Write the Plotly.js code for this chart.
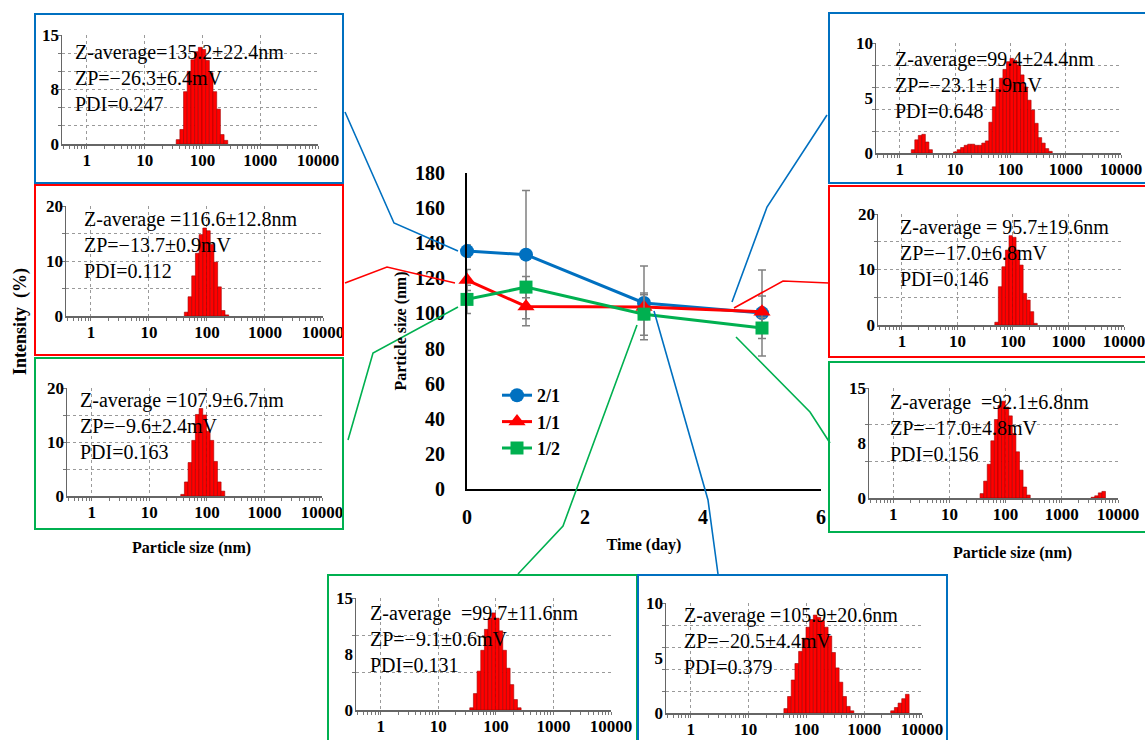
<!DOCTYPE html>
<html><head><meta charset="utf-8">
<script src="https://cdn.plot.ly/plotly-3.0.1.min.js"></script>
<style>html,body{margin:0;padding:0;background:#fff}#chart{width:1145px;height:740px}</style>
</head><body><div id="chart"></div>
<script>
// ---------- main chart data ----------
const days = [0, 1, 3, 5];
const seriesNames = ['2/1', '1/1', '1/2'];
const size21 = [135.5, 133.5, 106.0, 100.2];
const err21  = [3.5, 36.5, 21.0, 24.5];
const size11 = [119.0, 104.0, 103.6, 101.0];
const err11  = [6.0, 11.0, 7.0, 9.0];
const size12 = [108.0, 115.0, 99.6, 91.7];
const err12  = [8.0, 6.0, 12.0, 6.0];
const mainXTicks = [0, 2, 4, 6];
const mainYTicks = [0, 20, 40, 60, 80, 100, 120, 140, 160, 180];

// ---------- DLS intensity distributions (size nm, intensity %) ----------
const d21_0_size = [37.84,43.82,50.75,58.77,68.06,78.82,91.28,105.7,122.4,141.8,164.2,190.1,220.2,255.0];
const d21_0_int  = [0.6,2.0,7.2,10.0,11.6,12.7,13.3,13.0,11.5,9.8,7.2,4.8,1.3,0.5];
const d11_0_size = [43.82,50.75,58.77,68.06,78.82,91.28,105.7,122.4,141.8,164.2,190.1,220.2];
const d11_0_int  = [0.7,3.5,7.3,11.4,14.8,16.0,15.5,13.0,9.8,5.3,1.0,0.2];
const d12_0_size = [37.84,43.82,50.75,58.77,68.06,78.82,91.28,105.7,122.4,141.8,164.2,190.1];
const d12_0_int  = [0.3,2.6,6.2,10.3,15.1,16.2,15.0,12.0,10.3,6.4,2.6,0.9];
const d21_5_size = [1.736,2.010,2.328,2.696,3.122,3.615,
  10.10,11.70,13.54,15.69,18.17,21.04,24.36,28.21,32.67,37.84,43.82,50.75,58.77,68.06,78.82,91.28,105.7,122.4,141.8,164.2,190.1,220.2,255.0,295.3,342.0,396.1,458.7,531.2];
const d21_5_int  = [0.3,1.2,1.6,1.7,1.0,0.3,
  0.1,0.3,0.5,0.7,0.8,0.8,0.7,0.7,0.9,1.1,2.8,4.2,5.8,6.8,7.6,8.3,8.6,8.4,8.0,7.1,6.0,4.8,3.9,2.7,1.4,0.9,0.4,0.15];
const d11_5_size = [50.75,58.77,68.06,78.82,91.28,105.7,122.4,141.8,164.2,190.1,220.2,255.0];
const d11_5_int  = [0.5,6.9,10.5,13.5,16.1,15.8,13.5,10.8,5.7,4.5,2.4,0.3];
const d12_5_size = [37.84,43.82,50.75,58.77,68.06,78.82,91.28,105.7,122.4,141.8,164.2,190.1,220.2,255.0,3580,4145,4801,5560];
const d12_5_int  = [0.6,2.3,4.6,7.8,10.7,12.6,13.2,12.4,11.2,8.8,6.3,3.8,1.5,0.4,0.1,0.3,0.7,0.9];
const d12_3_size = [37.84,43.82,50.75,58.77,68.06,78.82,91.28,105.7,122.4,141.8,164.2,190.1,220.2,255.0];
const d12_3_int  = [0.3,2.2,5.2,8.0,10.8,12.3,13.0,12.3,10.6,8.0,5.6,3.4,1.4,0.3];
const d21_3_size = [43.82,50.75,58.77,68.06,78.82,91.28,105.7,122.4,141.8,164.2,190.1,220.2,255.0,295.3,342.0,396.1,458.7,531.2,615.1,3091,3580,4145,4801,5560];
const d21_3_int  = [0.4,1.5,3.0,4.5,5.6,6.8,7.8,8.5,8.9,8.7,8.4,7.8,7.0,5.5,4.1,2.8,1.5,0.6,0.2,0.2,0.5,0.9,1.3,1.7];

const insetXTicks = [1, 10, 100, 1000, 10000];
const insetXText = ['1', '10', '100', '1000', '10000'];

const zText = ['Z-average=135.2±22.4nm','Z-average =116.6±12.8nm','Z-average =107.9±6.7nm',
  'Z-average=99.4±24.4nm','Z-average = 95.7±19.6nm','Z-average \u00a0=92.1±6.8nm',
  'Z-average \u00a0=99.7±11.6nm','Z-average =105.9±20.6nm'];
const zpText = ['ZP=\u221226.3±6.4mV','ZP=\u221213.7±0.9mV','ZP=\u22129.6±2.4mV','ZP=\u221223.1±1.9mV',
  'ZP=\u221217.0±6.8mV','ZP=\u221217.0±4.8mV','ZP=\u22129.1±0.6mV','ZP=\u221220.5±4.4mV'];
const pdiText = ['PDI=0.247','PDI=0.112','PDI=0.163','PDI=0.648','PDI=0.146','PDI=0.156','PDI=0.131','PDI=0.379'];

// ---------- layout helpers ----------
const W = 1145, H = 740;
const FONT = 'Liberation Serif, Times New Roman, serif';
const BLUE = '#0070C0', RED = '#FF0000', GREEN = '#00B050';
const px = x => x / W, py = y => 1 - y / H;

const insets = [
  {s:d21_0_size, v:d21_0_int, col:BLUE,  box:[35,14,343,183],  pl:[62,35,318,144],   yr:15, lab:[0,7.5,15], labT:['0','8','15'], grid:[2.5,5,7.5,10,12.5,15], tx:[73,78]},
  {s:d11_0_size, v:d11_0_int, col:RED,   box:[35,185,343,355], pl:[66,206,323,316],  yr:20, lab:[0,10,20], labT:['0','10','20'], grid:[5,10,15,20], tx:[82,245]},
  {s:d12_0_size, v:d12_0_int, col:GREEN, box:[35,358,343,529], pl:[67,388,322,496],  yr:20, lab:[0,10,20], labT:['0','10','20'], grid:[5,10,15,20], tx:[78,426]},
  {s:d21_5_size, v:d21_5_int, col:BLUE,  box:[829,13,1152,183], pl:[876,43,1121,153], yr:10, lab:[0,5,10], labT:['0','5','10'], grid:[2,4,6,8,10], tx:[893,85]},
  {s:d11_5_size, v:d11_5_int, col:RED,   box:[829,186,1152,357], pl:[878,214,1124,325], yr:20, lab:[0,10,20], labT:['0','10','20'], grid:[5,10,15,20], tx:[898,253]},
  {s:d12_5_size, v:d12_5_int, col:GREEN, box:[829,362,1152,532], pl:[869,388,1118,498], yr:15, lab:[0,7.5,15], labT:['0','8','15'], grid:[5,10,15], tx:[888,428]},
  {s:d12_3_size, v:d12_3_int, col:GREEN, box:[328,575,637,745], pl:[356,598,611,710], yr:15, lab:[0,7.5,15], labT:['0','8','15'], grid:[5,10,15], tx:[368,639]},
  {s:d21_3_size, v:d21_3_int, col:BLUE,  box:[638,575,947,745], pl:[666,603,922,713], yr:10, lab:[0,5,10], labT:['0','5','10'], grid:[2,4,6,8,10], tx:[682,641]}
];

const BIN_RATIO = 1.1581; // log-spaced size classes
const traces = [];
const layout = {
  width: W, height: H, margin: {l:0, r:0, t:0, b:0},
  paper_bgcolor: '#fff', plot_bgcolor: 'rgba(0,0,0,0)',
  showlegend: true, barmode: 'overlay', bargap: 0,
  font: {family: FONT, color: '#000'},
  legend: {x: px(497), y: py(377), xanchor: 'left', yanchor: 'top', bgcolor: 'rgba(0,0,0,0)',
           font: {family: FONT, size: 18, color: '#000', weight: 'bold'}, tracegroupgap: 0, itemwidth: 30},
  xaxis: {domain: [px(467), px(821)], range: [0, 6], tickvals: mainXTicks, showline: true, linecolor: '#000', linewidth: 2,
          ticks: '', showgrid: false, zeroline: false, ticklabelstandoff: 9,
          tickfont: {family: FONT, size: 20, weight: 'bold'},
          title: {text: 'Time (day)', font: {family: FONT, size: 16, weight: 'bold'}, standoff: 12}},
  yaxis: {domain: [py(489), py(173)], range: [0, 180], tickvals: mainYTicks, showline: true, linecolor: '#000', linewidth: 2,
          ticks: '', showgrid: false, zeroline: false, ticklabelstandoff: 16,
          tickfont: {family: FONT, size: 20, weight: 'bold'},
          title: {text: 'Particle size (nm)', font: {family: FONT, size: 16, weight: 'bold'}, standoff: 4}},
  shapes: [], annotations: []
};

// main series
const mainDefs = [
  {y: size21, e: err21, col: BLUE, sym: 'circle', sz: 14},
  {y: size11, e: err11, col: RED, sym: 'triangle-up', sz: 15},
  {y: size12, e: err12, col: GREEN, sym: 'square', sz: 13}
];
mainDefs.forEach((d, k) => {
  traces.push({type: 'scatter', mode: 'lines+markers', x: days, y: d.y, name: seriesNames[k],
    legendgroup: 'g' + k, cliponaxis: false,
    line: {color: d.col, width: 3}, marker: {color: d.col, symbol: d.sym, size: d.sz},
    error_y: {type: 'data', array: d.e, visible: true, color: '#808080', thickness: 1.5, width: 4},
    xaxis: 'x', yaxis: 'y'});
});

// insets: base axis carries bars + dotted grid, overlay axis carries the value labels
insets.forEach((it, i) => {
  const n = i + 2, m = i + 10;
  const xd = [px(it.pl[0]), px(it.pl[2])], yd = [py(it.pl[3]), py(it.pl[1])];
  layout['xaxis' + n] = {domain: xd, anchor: 'y' + n, type: 'log', range: [-0.43, 4.0],
    tickvals: insetXTicks, ticktext: insetXText, ticks: '', showgrid: true, griddash: 'dot',
    gridcolor: '#9a9a9a', gridwidth: 1, showline: true, linecolor: '#666', linewidth: 1.5, zeroline: false,
    ticklabelstandoff: 0, ticklabeloverflow: 'allow', tickfont: {family: FONT, size: 17, weight: 'bold'},
    minor: {tickmode: 'linear', dtick: 'D1', ticks: 'outside', ticklen: 3, tickcolor: '#777', showgrid: false}};
  layout['yaxis' + n] = {domain: yd, anchor: 'x' + n, range: [0, it.yr], tickvals: it.grid,
    showticklabels: false, showgrid: true, griddash: 'dot', gridcolor: '#9a9a9a', gridwidth: 1,
    showline: true, linecolor: '#666', linewidth: 1.5, zeroline: false, ticks: 'outside', ticklen: 3, tickcolor: '#777'};
  layout['yaxis' + m] = {domain: yd, overlaying: 'y' + n, anchor: 'x' + n, side: 'left', range: [0, it.yr],
    tickvals: it.lab, ticktext: it.labT, showgrid: false, zeroline: false, showline: false, ticks: '',
    ticklabelstandoff: 2, tickfont: {family: FONT, size: 17, weight: 'bold'}};
  const half = Math.sqrt(BIN_RATIO);
  traces.push({type: 'bar', x: it.s, y: it.v, showlegend: false, xaxis: 'x' + n, yaxis: 'y' + n,
    offset: it.s.map(s => s / half - s), width: it.s.map(s => s * half - s / half),
    marker: {color: '#FF0000', line: {color: '#A00000', width: 0.6}}});
  // empty trace that registers the label axis
  traces.push({type: 'scatter', mode: 'markers', x: [], y: [], showlegend: false, hoverinfo: 'skip',
    xaxis: 'x' + n, yaxis: 'y' + m});
  layout.shapes.push({type: 'rect', xref: 'paper', yref: 'paper', layer: 'above',
    x0: px(it.box[0]), x1: px(it.box[2]), y0: py(it.box[3]), y1: py(it.box[1]),
    line: {color: it.col, width: 2}, fillcolor: 'rgba(0,0,0,0)'});
  layout.annotations.push({xref: 'paper', yref: 'paper', x: px(it.tx[0]), y: py(it.tx[1]),
    xanchor: 'left', yanchor: 'middle', align: 'left', showarrow: false,
    text: zText[i] + '<br>' + zpText[i] + '<br>' + pdiText[i],
    font: {family: FONT, size: 20, color: '#000'}});
});

// connector lines from the main curve to each inset
const connectors = [
  {c: BLUE,  p: [[345,112],[394,223],[458,251]]},
  {c: RED,   p: [[345,283],[387,267],[455,283]]},
  {c: GREEN, p: [[348,440],[373,353],[458,307]]},
  {c: BLUE,  p: [[827,115],[767,207],[732,302]]},
  {c: RED,   p: [[829,283],[783,281],[734,308]]},
  {c: GREEN, p: [[736,337],[810,412],[830,443]]},
  {c: GREEN, p: [[637,325],[563,526],[518,574]]},
  {c: BLUE,  p: [[654,311],[708,500],[718,574]]}
];
connectors.forEach(cn => {
  const d = cn.p.map((q, k) => (k ? 'L' : 'M') + px(q[0]) + ',' + py(q[1])).join(' ');
  layout.shapes.push({type: 'path', xref: 'paper', yref: 'paper', layer: 'above', path: d,
    line: {color: cn.c, width: 1.6}});
});

// shared inset axis titles
layout.annotations.push(
  {xref: 'paper', yref: 'paper', x: px(20), y: py(322), xanchor: 'center', yanchor: 'middle', textangle: -90, showarrow: false,
   text: 'Intensity\u00a0 (%)', font: {family: FONT, size: 18, weight: 'bold'}},
  {xref: 'paper', yref: 'paper', x: px(191), y: py(548), xanchor: 'center', yanchor: 'middle', showarrow: false,
   text: 'Particle size (nm)', font: {family: FONT, size: 16, weight: 'bold'}},
  {xref: 'paper', yref: 'paper', x: px(1012), y: py(553), xanchor: 'center', yanchor: 'middle', showarrow: false,
   text: 'Particle size (nm)', font: {family: FONT, size: 16, weight: 'bold'}}
);

Plotly.newPlot('chart', traces, layout, {staticPlot: true, displayModeBar: false});
</script></body></html>
